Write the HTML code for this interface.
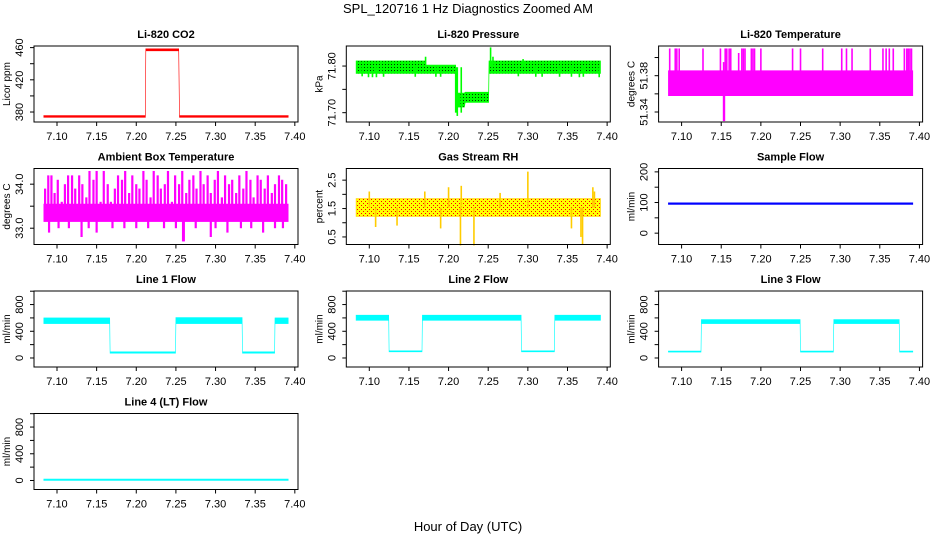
<!DOCTYPE html>
<html><head><meta charset="utf-8"><style>
body{margin:0;background:#fff;}
svg{display:block;font-family:"Liberation Sans",sans-serif;}
</style></head><body>
<svg id="c" width="936" height="540" viewBox="0 0 936 540">
<defs>
<pattern id="gdots" width="3" height="3" patternUnits="userSpaceOnUse"><rect width="3" height="3" fill="#00ff00"/><rect x="1" y="1" width="1" height="1" fill="#003300"/></pattern>
<pattern id="rdots" width="4" height="4" patternUnits="userSpaceOnUse"><rect width="4" height="4" fill="#ffff00"/><rect x="1" y="1" width="1" height="1" fill="#ff0000"/><rect x="3" y="3" width="1" height="1" fill="#ff0000"/></pattern>
</defs>
<text x="468" y="13" text-anchor="middle" font-size="13">SPL_120716  1 Hz Diagnostics Zoomed AM</text>
<text x="468" y="531" text-anchor="middle" font-size="13">Hour of Day (UTC)</text>
</svg>
<script>
// ---- data ----
const xTicks = [7.10,7.15,7.20,7.25,7.30,7.35,7.40];
const xTickLabels = ["7.10","7.15","7.20","7.25","7.30","7.35","7.40"];

const co2T  = [7.0833,7.2115,7.2120,7.2535,7.2545,7.3917];
const co2Lo = [373.5,373.5,456,456,373.5,373.5];
const co2Hi = [375.5,375.5,458.5,458.5,375.5,375.5];

const presT  = [7.0833,7.170,7.171,7.209,7.210,7.220,7.221,7.2505,7.251,7.3917];
const presLo = [71.784,71.784,71.784,71.784,71.712,71.712,71.722,71.722,71.784,71.784];
const presHi = [71.811,71.811,71.802,71.802,71.742,71.742,71.744,71.744,71.811,71.811];
const presSpikeT = [7.091,7.099,7.104,7.109,7.118,7.158,7.171,7.184,7.19,7.209,7.211,7.216,7.253,7.256,7.288,7.294,7.31,7.318,7.34,7.355,7.365,7.37,7.39];
const presSpikeV = [71.778,71.776,71.776,71.776,71.777,71.777,71.82,71.777,71.777,71.70,71.693,71.70,71.84,71.82,71.778,71.815,71.777,71.777,71.777,71.777,71.776,71.777,71.776];

const tempT  = [7.0833,7.3917];
const tempLo = [51.358,51.358];
const tempHi = [51.3855,51.3855];
const tempSpikeT = [7.085,7.092,7.094,7.097,7.127,7.149,7.153,7.155,7.157,7.160,7.162,7.172,7.176,7.178,7.180,7.188,7.190,7.192,7.200,7.240,7.250,7.278,7.302,7.308,7.315,7.338,7.354,7.358,7.362,7.367,7.381,7.384,7.386,7.388,7.390,7.153,7.154];
const tempSpikeV = [51.41,51.41,51.41,51.41,51.41,51.41,51.395,51.41,51.41,51.41,51.41,51.405,51.41,51.41,51.41,51.41,51.41,51.41,51.41,51.41,51.41,51.41,51.41,51.41,51.41,51.41,51.41,51.41,51.41,51.41,51.41,51.41,51.41,51.41,51.41,51.330,51.330];

const ambT  = [7.0833,7.3917];
const ambLo = [33.15,33.15];
const ambHi = [33.55,33.55];
const ambSpikeT = [7.085,7.089,7.093,7.097,7.101,7.106,7.110,7.114,7.119,7.123,7.128,7.132,7.137,7.141,7.146,7.150,7.155,7.159,7.164,7.168,7.173,7.177,7.182,7.186,7.191,7.195,7.200,7.204,7.209,7.213,7.218,7.222,7.227,7.231,7.236,7.240,7.245,7.249,7.254,7.258,7.263,7.267,7.272,7.276,7.281,7.285,7.290,7.294,7.299,7.303,7.308,7.312,7.317,7.321,7.326,7.330,7.335,7.339,7.344,7.348,7.353,7.357,7.362,7.366,7.371,7.375,7.380,7.384,7.389];
const ambSpikeV = [33.9,34.2,34.2,33.8,34.1,33.6,34.0,34.2,34.2,33.9,34.2,34.0,33.7,34.3,34.1,34.3,33.6,34.3,34.0,33.6,33.9,34.2,34.1,34.3,33.8,34.2,34.0,33.9,34.3,34.1,33.7,34.3,34.2,33.9,34.0,34.3,33.6,34.2,34.0,34.3,33.8,34.1,34.2,33.9,34.3,34.0,34.2,33.8,34.1,34.3,33.7,34.2,34.0,34.1,33.8,34.2,33.9,34.3,34.1,33.7,34.2,34.1,33.9,34.2,33.8,34.0,34.2,34.1,34.0];
const ambDipT = [7.090,7.102,7.115,7.131,7.140,7.150,7.170,7.185,7.200,7.215,7.235,7.250,7.259,7.260,7.275,7.294,7.300,7.315,7.332,7.345,7.360,7.375,7.385];
const ambDipV = [32.9,33.0,33.0,32.8,33.0,32.9,33.0,33.0,33.0,33.0,33.0,33.0,32.7,32.7,33.0,32.8,33.0,32.9,33.0,33.0,32.9,33.0,33.0];

const rhT  = [7.0833,7.3917];
const rhLo = [1.22,1.22];
const rhHi = [1.85,1.85];
const rhSpikeT = [7.100,7.108,7.135,7.170,7.190,7.200,7.215,7.216,7.232,7.265,7.300,7.355,7.367,7.369,7.382,7.384];
const rhSpikeV = [2.1,0.85,0.9,2.1,0.8,2.25,0.2,2.3,0.2,2.05,2.8,0.8,0.5,0.25,2.25,2.1];

const sfT  = [7.0833,7.3917];
const sfLo = [94,94];
const sfHi = [99,99];

const l1T  = [7.0833,7.1665,7.167,7.2495,7.250,7.3335,7.334,7.3745,7.375,7.3917];
const l1Lo = [515,515,72,72,515,515,72,72,515,515];
const l1Hi = [600,600,92,92,605,605,92,92,600,600];
const l2T  = [7.0833,7.1245,7.125,7.1665,7.167,7.2915,7.292,7.3335,7.334,7.3917];
const l2Lo = [565,565,92,92,565,565,92,92,565,565];
const l2Hi = [640,640,108,108,640,640,108,108,640,640];
const l3T  = [7.0833,7.1245,7.125,7.2495,7.250,7.2915,7.292,7.3745,7.375,7.3917];
const l3Lo = [88,88,515,515,88,88,515,515,88,88];
const l3Hi = [104,104,575,575,104,104,575,575,104,104];
const l4T  = [7.0833,7.3917];
const l4Lo = [2,2];
const l4Hi = [20,20];

const flowTicks=[0,200,400,600,800,1000], flowLabels=["0","","400","","800",""];

// ---- layout / drawing ----
const svg=document.getElementById('c');
const NS='http://www.w3.org/2000/svg';
function el(t,a,p){const e=document.createElementNS(NS,t);for(const k in a)e.setAttribute(k,a[k]);(p||svg).appendChild(e);return e;}

const panels=[
 {name:'li820-co2',title:'Li-820 CO2',yl:'Licor ppm',r:0,c:0,ymin:367.6,ymax:462,ticks:[380,400,420,440,460],labels:["380","","420","","460"],T:co2T,lo:co2Lo,hi:co2Hi,fill:'#ff0000'},
 {name:'li820-pressure',title:'Li-820 Pressure',yl:'kPa',r:0,c:1,ymin:71.680,ymax:71.843,ticks:[71.70,71.75,71.80],labels:["71.70","","71.80"],T:presT,lo:presLo,hi:presHi,fill:'url(#gdots)',sc:'#00ff00',sT:presSpikeT,sV:presSpikeV},
 {name:'li820-temperature',title:'Li-820 Temperature',yl:'degrees C',r:0,c:2,ymin:51.329,ymax:51.4127,ticks:[51.34,51.36,51.38,51.40],labels:["51.34","","51.38",""],T:tempT,lo:tempLo,hi:tempHi,fill:'#ff00ff',sc:'#ff00ff',sT:tempSpikeT,sV:tempSpikeV},
 {name:'ambient-box-temperature',title:'Ambient Box Temperature',yl:'degrees C',r:1,c:0,ymin:32.63,ymax:34.356,ticks:[33.0,33.5,34.0],labels:["33.0","","34.0"],T:ambT,lo:ambLo,hi:ambHi,fill:'#ff00ff',sc:'#ff00ff',sw:2.2,sT:ambSpikeT,sV:ambSpikeV,dT:ambDipT,dV:ambDipV},
 {name:'gas-stream-rh',title:'Gas Stream RH',yl:'percent',r:1,c:1,ymin:0.234,ymax:2.91,ticks:[0.5,1.0,1.5,2.0,2.5],labels:["0.5","","1.5","","2.5"],T:rhT,lo:rhLo,hi:rhHi,fill:'url(#rdots)',sc:'#ffcc00',sT:rhSpikeT,sV:rhSpikeV},
 {name:'sample-flow',title:'Sample Flow',yl:'ml/min',r:1,c:2,ymin:-37,ymax:211,ticks:[0,50,100,150,200],labels:["0","","100","","200"],T:sfT,lo:sfLo,hi:sfHi,fill:'#0000ff'},
 {name:'line1-flow',title:'Line 1 Flow',yl:'ml/min',r:2,c:0,ymin:-135,ymax:1003,ticks:flowTicks,labels:flowLabels,T:l1T,lo:l1Lo,hi:l1Hi,fill:'#00ffff'},
 {name:'line2-flow',title:'Line 2 Flow',yl:'ml/min',r:2,c:1,ymin:-135,ymax:1003,ticks:flowTicks,labels:flowLabels,T:l2T,lo:l2Lo,hi:l2Hi,fill:'#00ffff'},
 {name:'line3-flow',title:'Line 3 Flow',yl:'ml/min',r:2,c:2,ymin:-135,ymax:1003,ticks:flowTicks,labels:flowLabels,T:l3T,lo:l3Lo,hi:l3Hi,fill:'#00ffff'},
 {name:'line4-flow',title:'Line 4 (LT) Flow',yl:'ml/min',r:3,c:0,ymin:-135,ymax:1003,ticks:flowTicks,labels:flowLabels,T:l4T,lo:l4Lo,hi:l4Hi,fill:'#00ffff'}
];
const XMIN=7.071, XMAX=7.404, W=264, H=76;

panels.forEach(p=>{
  const L=34+312.3*p.c, Tp=46+122.5*p.r;
  const sx=v=>L+(v-XMIN)/(XMAX-XMIN)*W;
  const sy=v=>Tp+H-(v-p.ymin)/(p.ymax-p.ymin)*H;
  const g=el('g',{});
  
  
  let pts=p.T.map((t,i)=>sx(t).toFixed(1)+','+sy(p.hi[i]).toFixed(1));
  for(let i=p.T.length-1;i>=0;i--)pts.push(sx(p.T[i]).toFixed(1)+','+sy(p.lo[i]).toFixed(1));
  const band=el('polygon',{points:pts.join(' '),fill:p.fill,stroke:p.sc||p.fill,'stroke-width':0.6},g);
  
  
  const mid=(p.lo[0]+p.hi[0])/2;
  function spikes(T,V){
    for(let i=0;i<T.length;i++){
      const s=el('line',{x1:sx(T[i]),x2:sx(T[i]),y1:sy(mid),y2:sy(V[i]),stroke:p.sc,'stroke-width':p.sw||1.6},g);
      
      
    }
  }
  if(p.sT)spikes(p.sT,p.sV);
  if(p.dT)spikes(p.dT,p.dV);
  const box=el('rect',{x:L,y:Tp,width:W,height:H,fill:'none',stroke:'#000','stroke-width':1},g);
  
  
  const tt=el('text',{x:L+W/2,y:Tp-8,'text-anchor':'middle','font-size':11,'font-weight':'bold'},g);
  tt.textContent=p.title;
  
  
  xTicks.forEach((v,i)=>{
    el('line',{x1:sx(v),x2:sx(v),y1:Tp+H,y2:Tp+H+4,stroke:'#000'},g);
    const t=el('text',{x:sx(v),y:Tp+H+18,'text-anchor':'middle','font-size':11},g);
    t.textContent=xTickLabels[i];
    
    
  });
  p.ticks.forEach((v,i)=>{
    el('line',{x1:L-4,x2:L,y1:sy(v),y2:sy(v),stroke:'#000'},g);
    if(p.labels[i]){
      const t=el('text',{x:L-11,y:sy(v),'text-anchor':'middle','font-size':11,transform:`rotate(-90 ${L-11} ${sy(v)})`},g);
      t.textContent=p.labels[i];
      
      
    }
  });
  const yx=L-24, yy=Tp+H/2;
  const yt=el('text',{x:yx,y:yy,'text-anchor':'middle','font-size':10,transform:`rotate(-90 ${yx} ${yy})`},g);
  yt.textContent=p.yl;
  
  
});
</script>
</body></html>
